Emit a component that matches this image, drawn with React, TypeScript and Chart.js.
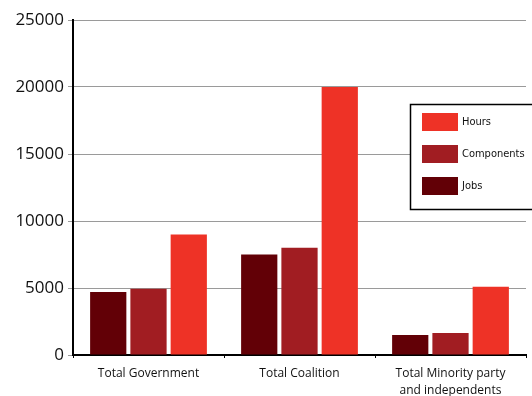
import React, { useEffect, useRef } from "react";
import { Chart, registerables } from "chart.js";

Chart.register(...registerables);

const categories: (string | string[])[] = [
  "Total Government",
  "Total Coalition",
  ["Total Minority party", "and independents"],
];
const jobs = [4700, 7500, 1500];
const components = [4950, 8000, 1650];
const hours = [9000, 20000, 5100];
const yTicks = [0, 5000, 10000, 15000, 20000, 25000];

const legendPlugin = {
  id: "boxLegend",
  afterDraw(chart: any) {
    const ctx = chart.ctx;
    const x = 410, y = 104, w = 140, h = 105;
    ctx.save();
    ctx.fillStyle = "#ffffff";
    ctx.fillRect(x, y, w, h);
    ctx.strokeStyle = "#000000";
    ctx.lineWidth = 1.5;
    ctx.strokeRect(x + 0.5, y + 0.5, w, h);
    const items = chart.data.datasets.slice().reverse();
    items.forEach((ds: any, i: number) => {
      const sy = y + 9 + i * 32;
      ctx.fillStyle = ds.backgroundColor;
      ctx.fillRect(x + 12, sy, 36, 18);
      ctx.fillStyle = "#111";
      ctx.font = "11px 'Liberation Sans Narrow', 'DejaVu Sans Condensed', sans-serif";
      ctx.textBaseline = "middle";
      ctx.textAlign = "left";
      ctx.fillText(ds.label, x + 52, sy + 9);
    });
    ctx.restore();
  },
};

export default function App() {
  const ref = useRef<HTMLCanvasElement>(null);
  useEffect(() => {
    if (!ref.current) return;
    const chart = new Chart(ref.current, {
      type: "bar",
      data: {
        labels: categories,
        datasets: [
          { label: "Jobs", data: jobs, backgroundColor: "#620006" },
          { label: "Components", data: components, backgroundColor: "#a11d22" },
          { label: "Hours", data: hours, backgroundColor: "#ee3226" },
        ],
      },
      options: {
        animation: false,
        responsive: false,
        maintainAspectRatio: false,
        layout: { padding: { top: 20, right: 6, left: 0, bottom: 0 } },
        plugins: { legend: { display: false }, tooltip: { enabled: false } },
        datasets: { bar: { categoryPercentage: 0.8, barPercentage: 0.9 } },
        scales: {
          x: {
            offset: true,
            grid: { display: true, drawOnChartArea: false, drawTicks: true, tickLength: 3, color: "#000", offset: true },
            border: { display: true, color: "#000", width: 2 },
            ticks: {
              color: "#111",
              font: { family: "'Open Sans', sans-serif", size: 12, lineHeight: 1.4 },
              padding: 7,
              maxRotation: 0,
              autoSkip: false,
            },
            afterFit(scale: any) { scale.height = 41; },
          },
          y: {
            min: 0,
            max: 25000,
            afterBuildTicks(scale: any) { scale.ticks = yTicks.map((v) => ({ value: v })); },
            grid: { color: "#9a9a9a", lineWidth: 1, tickLength: 5, drawTicks: true },
            border: { display: true, color: "#000", width: 2 },
            ticks: {
              color: "#111",
              font: { family: "'Open Sans', sans-serif", size: 17 },
              padding: 4,
              callback: (v: any) => String(v),
            },
            afterFit(scale: any) { scale.width = 73; },
          },
        },
      },
      plugins: [legendPlugin],
    });
    return () => chart.destroy();
  }, []);
  return (
    <div style={{ position: "absolute", left: 0, top: 0, width: 532, height: 396, background: "#fff" }}>
      <canvas ref={ref} width={532} height={396} style={{ width: 532, height: 396 }} />
    </div>
  );
}
